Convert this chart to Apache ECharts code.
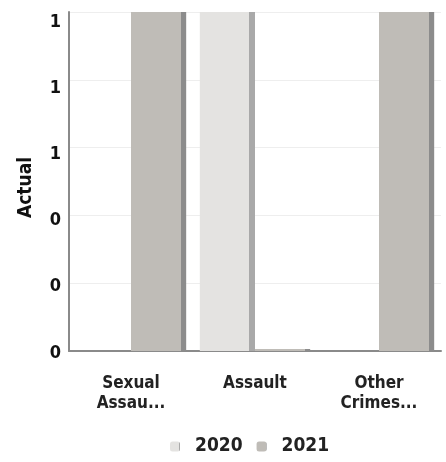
<!DOCTYPE html>
<html>
<head>
<meta charset="utf-8">
<script src="https://cdn.jsdelivr.net/npm/echarts@6/dist/echarts.min.js"></script>
<style>
  html, body { margin: 0; padding: 0; background: #fff; }
  #chart { width: 446px; height: 462px; }
</style>
</head>
<body>
<div id="chart"></div>
<script>
// Offence categories and yearly counts
const categories = ['Sexual\nAssau...', 'Assault', 'Other\nCrimes...'];
const seriesNames = ['2020', '2021'];
const values2020 = [null, 1, null];
const values2021 = [1, 0.006, 1];
const yTicks = [0, 0.2, 0.4, 0.6, 0.8, 1];

const FONT = '"DejaVu Sans Condensed", "DejaVu Sans", sans-serif';
const yMin = yTicks[0];
const yMax = yTicks[yTicks.length - 1];
const yStep = yTicks[1] - yTicks[0];

// Flat face with a darker strip on the right to suggest a bevelled bar
function bevel(face, edge) {
  return new echarts.graphic.LinearGradient(0, 0, 1, 0, [
    { offset: 0, color: face },
    { offset: 0.9, color: face },
    { offset: 0.9, color: edge },
    { offset: 1, color: edge }
  ]);
}

const chart = echarts.init(document.getElementById('chart'));
chart.setOption({
  animation: false,
  backgroundColor: '#fff',
  grid: [
    // plotting area (back wall)
    { left: 69, right: 5, top: 12, bottom: 111 },
    // front plane carrying the value labels and axis title
    { left: 69, right: 5, top: 22, bottom: 109 }
  ],
  legend: {
    data: seriesNames,
    top: 432,
    left: 165,
    itemWidth: 10,
    itemHeight: 10,
    itemGap: 14,
    textStyle: {
      fontFamily: FONT, fontSize: 19, fontWeight: 'bold', color: '#222',
      padding: [0, 0, 0, 10]
    }
  },
  xAxis: [
    {
      type: 'category',
      data: categories,
      gridIndex: 0,
      axisLine: { lineStyle: { color: '#8a8a8a', width: 2 } },
      axisTick: { show: false },
      axisLabel: {
        fontFamily: FONT, fontSize: 17, fontWeight: 'bold', color: '#222',
        lineHeight: 20, margin: 23
      }
    },
    { type: 'category', data: categories, gridIndex: 1, show: false }
  ],
  yAxis: [
    {
      type: 'value',
      gridIndex: 0,
      min: yMin, max: yMax, interval: yStep,
      axisLine: { show: true, lineStyle: { color: '#8a8a8a', width: 2 } },
      axisTick: { show: false },
      axisLabel: { show: false },
      splitLine: { lineStyle: { color: '#eeeeee' } }
    },
    {
      type: 'value',
      gridIndex: 1,
      min: yMin, max: yMax, interval: yStep,
      name: 'Actual',
      nameLocation: 'middle',
      nameGap: 33,
      nameTextStyle: { fontFamily: FONT, fontSize: 19, fontWeight: 'bold', color: '#111' },
      axisLine: { show: false },
      axisTick: { show: false },
      splitLine: { show: false },
      axisLabel: {
        fontFamily: FONT, fontSize: 18, fontWeight: 'bold', color: '#111', margin: 8,
        formatter: v => String(Math.round(v))
      }
    }
  ],
  series: [
    {
      name: seriesNames[0], type: 'bar', data: values2020,
      barGap: 0, barCategoryGap: '11%',
      itemStyle: { color: bevel('#e4e3e1', '#a9a9a9') }
    },
    {
      name: seriesNames[1], type: 'bar', data: values2021,
      barGap: 0, barCategoryGap: '11%',
      itemStyle: { color: bevel('#bfbcb7', '#8c8c8c') }
    }
  ]
});
</script>
</body>
</html>
